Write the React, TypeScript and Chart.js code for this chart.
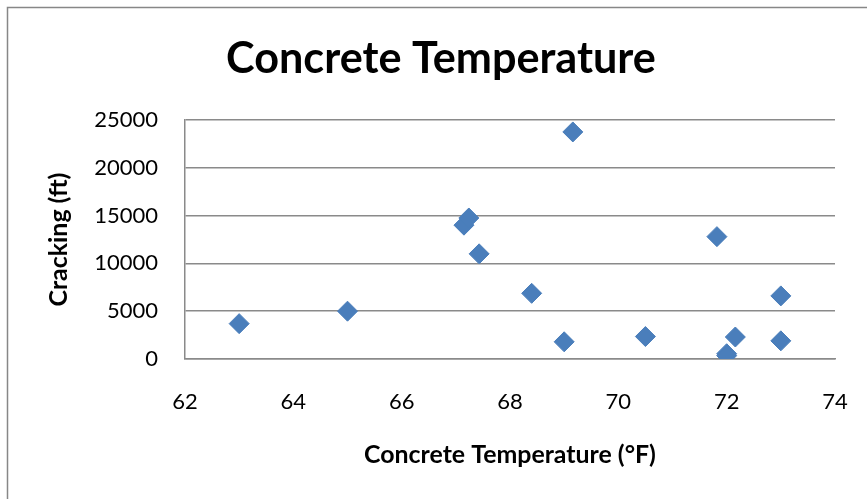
import React, { useEffect, useRef } from "react";
import { Chart, registerables } from "chart.js";

Chart.register(...registerables);

// Concrete temperature (°F) against cracking length (ft)
const temperatureF = [63.0, 65.0, 67.15, 67.24, 67.43, 68.4, 69.0, 69.16, 70.5, 71.82, 72.0, 72.0, 72.16, 73.0, 73.0];
const crackingFt = [3700, 5000, 14000, 14750, 11000, 6870, 1800, 23750, 2350, 12800, 550, 350, 2300, 6600, 1900];

const xTicks = [62, 64, 66, 68, 70, 72, 74];
const yTicks = [0, 5000, 10000, 15000, 20000, 25000];

const chartTitle = "Concrete Temperature";
const xTitle = "Concrete Temperature (°F)";
const yTitle = "Cracking (ft)";

const FONT = "Lato, 'Open Sans', sans-serif";
const GRID = "#8a8a8a";

// bold text fitted to a given width
function fitBold(ctx: CanvasRenderingContext2D, text: string, width: number) {
  ctx.font = `bold 100px ${FONT}`;
  const w = ctx.measureText(text).width;
  const size = (100 * width) / w;
  ctx.font = `bold ${size}px ${FONT}`;
}

const decorations = {
  id: "decorations",
  beforeDraw(chart: Chart) {
    const ctx = chart.ctx;
    ctx.save();
    ctx.fillStyle = "#ffffff";
    ctx.fillRect(0, 0, chart.width, chart.height);
    // outer frame
    ctx.strokeStyle = "#878787";
    ctx.lineWidth = 1.5;
    ctx.beginPath();
    ctx.moveTo(7.5, chart.height + 2);
    ctx.lineTo(7.5, 7.5);
    ctx.lineTo(chart.width + 2, 7.5);
    ctx.stroke();
    ctx.restore();
  },
  afterDraw(chart: Chart) {
    const ctx = chart.ctx;
    const area = chart.chartArea;
    ctx.save();
    ctx.fillStyle = "#000000";
    ctx.textAlign = "center";
    ctx.textBaseline = "alphabetic";

    fitBold(ctx, chartTitle, 430);
    ctx.fillText(chartTitle, 441, 73);

    fitBold(ctx, xTitle, 292);
    ctx.fillText(xTitle, (area.left + area.right) / 2, 463);

    fitBold(ctx, yTitle, 134);
    ctx.translate(67, (area.top + area.bottom) / 2);
    ctx.rotate(-Math.PI / 2);
    ctx.fillText(yTitle, 0, 0);
    ctx.restore();
  },
};

export default function App() {
  const canvasRef = useRef<HTMLCanvasElement | null>(null);

  useEffect(() => {
    if (!canvasRef.current) return;
    const points = temperatureF.map((x, i) => ({ x, y: crackingFt[i] }));
    const chart = new Chart(canvasRef.current, {
      type: "scatter",
      data: {
        datasets: [
          {
            label: "Cracking",
            data: points,
            pointStyle: "rectRot",
            pointRadius: 10,
            pointBackgroundColor: "#4A7EBB",
            pointBorderColor: "#4A7EBB",
            pointBorderWidth: 1,
          },
        ],
      },
      options: {
        responsive: false,
        animation: false,
        devicePixelRatio: 1,
        layout: { padding: { top: 120, right: 32, bottom: 0, left: 0 } },
        plugins: {
          legend: { display: false },
          tooltip: { enabled: false },
          title: { display: false },
        },
        scales: {
          x: {
            type: "linear",
            min: xTicks[0],
            max: xTicks[xTicks.length - 1],
            afterFit: (scale: any) => {
              scale.height = 140;
              scale.paddingLeft = 0;
              scale.paddingRight = 0;
            },
            afterBuildTicks: (scale: any) => {
              scale.ticks = xTicks.map((v) => ({ value: v }));
            },
            grid: { display: false, drawTicks: false },
            border: { display: true, color: GRID, width: 1.5 },
            ticks: {
              font: { family: FONT, size: 22 },
              color: "#000000",
              padding: 30,
              maxRotation: 0,
              callback: (v: any) => String(v),
            },
          },
          y: {
            type: "linear",
            min: yTicks[0],
            max: yTicks[yTicks.length - 1],
            afterFit: (scale: any) => {
              scale.width = 185;
              scale.paddingTop = 0;
              scale.paddingBottom = 0;
            },
            afterBuildTicks: (scale: any) => {
              scale.ticks = yTicks.map((v) => ({ value: v }));
            },
            grid: { display: true, color: GRID, lineWidth: 1.5, drawTicks: false },
            border: { display: true, color: GRID, width: 1.5 },
            ticks: {
              font: { family: FONT, size: 22 },
              color: "#000000",
              padding: 27,
              callback: (v: any) => String(v),
            },
          },
        },
      },
      plugins: [decorations],
    });
    return () => chart.destroy();
  }, []);

  return (
    <div style={{ position: "absolute", left: 0, top: 0, width: 867, height: 499 }}>
      <canvas ref={canvasRef} width={867} height={499} style={{ display: "block" }} />
    </div>
  );
}
